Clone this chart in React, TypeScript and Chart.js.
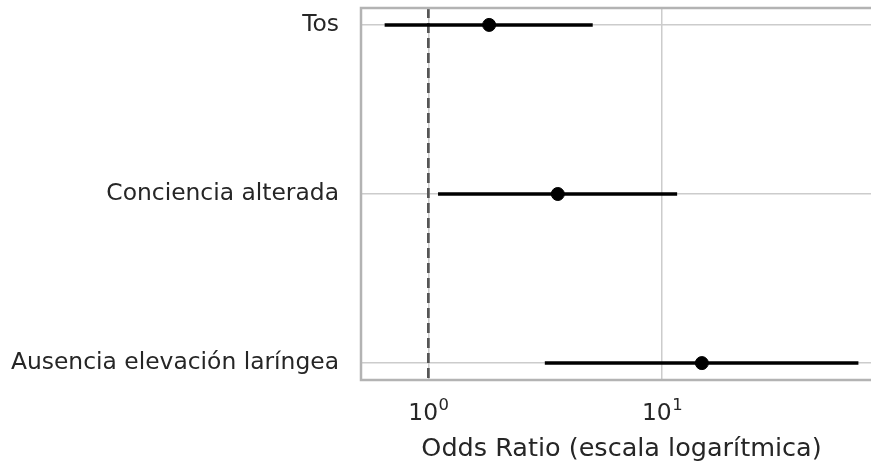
import React, { useEffect, useRef } from "react";
import { Chart, registerables } from "chart.js";

Chart.register(...registerables);

const categories = ["Tos", "Conciencia alterada", "Ausencia elevación laríngea"];
const oddsRatio = [1.82, 3.58, 14.8];
const ciLow = [0.65, 1.1, 3.15];
const ciHigh = [5.05, 11.6, 69.2];
const xTicks = [1, 10];
const xTickBase = ["10", "10"];
const xTickExp = ["0", "1"];
const xMin = 0.515;
const xMax = 87.3;
const refValue = 1;

const FONT = "'DejaVu Sans', sans-serif";
const TEXT = "#262626";
const FS = 23.4;
const FS_LABEL = 25.5;

const framePlugin = {
  id: "frame",
  afterDatasetsDraw(chart: any) {
    const { ctx, chartArea } = chart;
    ctx.save();
    ctx.strokeStyle = "#b3b3b3";
    ctx.lineWidth = 2.5;
    ctx.strokeRect(chartArea.left, chartArea.top, chartArea.right - chartArea.left, chartArea.bottom - chartArea.top);
    ctx.restore();
  },
  afterDraw(chart: any) {
    const { ctx, chartArea } = chart;
    const xs = chart.scales.x;
    ctx.save();
    ctx.fillStyle = TEXT;
    ctx.textBaseline = "alphabetic";
    ctx.textAlign = "left";
    const baseFont = `${FS}px ${FONT}`;
    const expFont = `16.4px ${FONT}`;
    xTicks.forEach((v, i) => {
      const px = xs.getPixelForValue(v);
      ctx.font = baseFont;
      const wb = ctx.measureText(xTickBase[i]).width;
      ctx.font = expFont;
      const we = ctx.measureText(xTickExp[i]).width;
      const start = px - (wb + we) / 2;
      const baseY = chartArea.bottom + 39.5;
      ctx.font = baseFont;
      ctx.fillText(xTickBase[i], start, baseY);
      ctx.font = expFont;
      ctx.fillText(xTickExp[i], start + wb + 0.5, baseY - 10);
    });
    ctx.restore();
  },
};

function zeroPad(scale: any) {
  scale.paddingTop = 0;
  scale.paddingBottom = 0;
  scale.paddingLeft = 0;
  scale.paddingRight = 0;
}

export default function App() {
  const ref = useRef<HTMLCanvasElement>(null);
  useEffect(() => {
    if (!ref.current) return;
    const ciSets = categories.map((c, i) => ({
      type: "line",
      label: c + " IC",
      data: [
        { x: ciLow[i], y: i },
        { x: ciHigh[i], y: i },
      ],
      borderColor: "#000000",
      borderWidth: 3.5,
      pointRadius: 0,
      showLine: true,
      order: 2,
    }));
    const chart = new Chart(ref.current, {
      type: "scatter",
      data: {
        datasets: [
          {
            type: "line",
            label: "ref",
            data: [
              { x: refValue, y: -0.1 },
              { x: refValue, y: 2.1 },
            ],
            borderColor: "#555555",
            borderWidth: 2.7,
            borderDash: [10, 5],
            pointRadius: 0,
            showLine: true,
            order: 3,
          } as any,
          ...(ciSets as any),
          {
            label: "OR",
            data: oddsRatio.map((v, i) => ({ x: v, y: i })),
            backgroundColor: "#000000",
            borderColor: "#000000",
            pointRadius: 6.5,
            pointHoverRadius: 6.5,
            order: 1,
          },
        ],
      },
      options: {
        animation: false,
        responsive: true,
        maintainAspectRatio: false,
        layout: { padding: { left: 0, right: 18, top: 8, bottom: 0 } },
        plugins: { legend: { display: false }, tooltip: { enabled: false }, title: { display: false } },
        scales: {
          x: {
            type: "logarithmic",
            min: xMin,
            max: xMax,
            afterBuildTicks: (scale: any) => {
              scale.ticks = xTicks.map((v) => ({ value: v }));
            },
            afterFit: (scale: any) => {
              scale.height = 81;
              zeroPad(scale);
            },
            ticks: {
              callback: () => "",
              autoSkip: false,
              maxRotation: 0,
              padding: 20,
              color: TEXT,
              font: { family: FONT, size: FS },
            },
            grid: { color: "#cccccc", lineWidth: 1.5, drawTicks: false },
            border: { display: false },
            title: {
              display: true,
              text: "Odds Ratio (escala logarítmica)",
              color: TEXT,
              font: { family: FONT, size: FS_LABEL, lineHeight: 0.9 },
              padding: { top: 0, bottom: 0 },
            },
          },
          y: {
            type: "linear",
            reverse: true,
            min: -0.1,
            max: 2.1,
            afterBuildTicks: (scale: any) => {
              scale.ticks = categories.map((_, i) => ({ value: i }));
            },
            afterFit: (scale: any) => {
              scale.width = 361;
              zeroPad(scale);
            },
            ticks: {
              callback: (v: any) => categories[Number(v)] ?? "",
              autoSkip: false,
              padding: 22,
              color: TEXT,
              font: { family: FONT, size: FS },
            },
            grid: { color: "#cccccc", lineWidth: 1.5, drawTicks: false },
            border: { display: false },
          },
        },
      } as any,
      plugins: [framePlugin],
    });
    return () => chart.destroy();
  }, []);
  return (
    <div style={{ position: "fixed", left: 0, top: 0, width: 871, height: 461, overflow: "hidden", background: "#fff" }}>
      <div style={{ position: "absolute", left: 0, top: 0, width: 900, height: 461 }}>
        <canvas ref={ref} />
      </div>
    </div>
  );
}
